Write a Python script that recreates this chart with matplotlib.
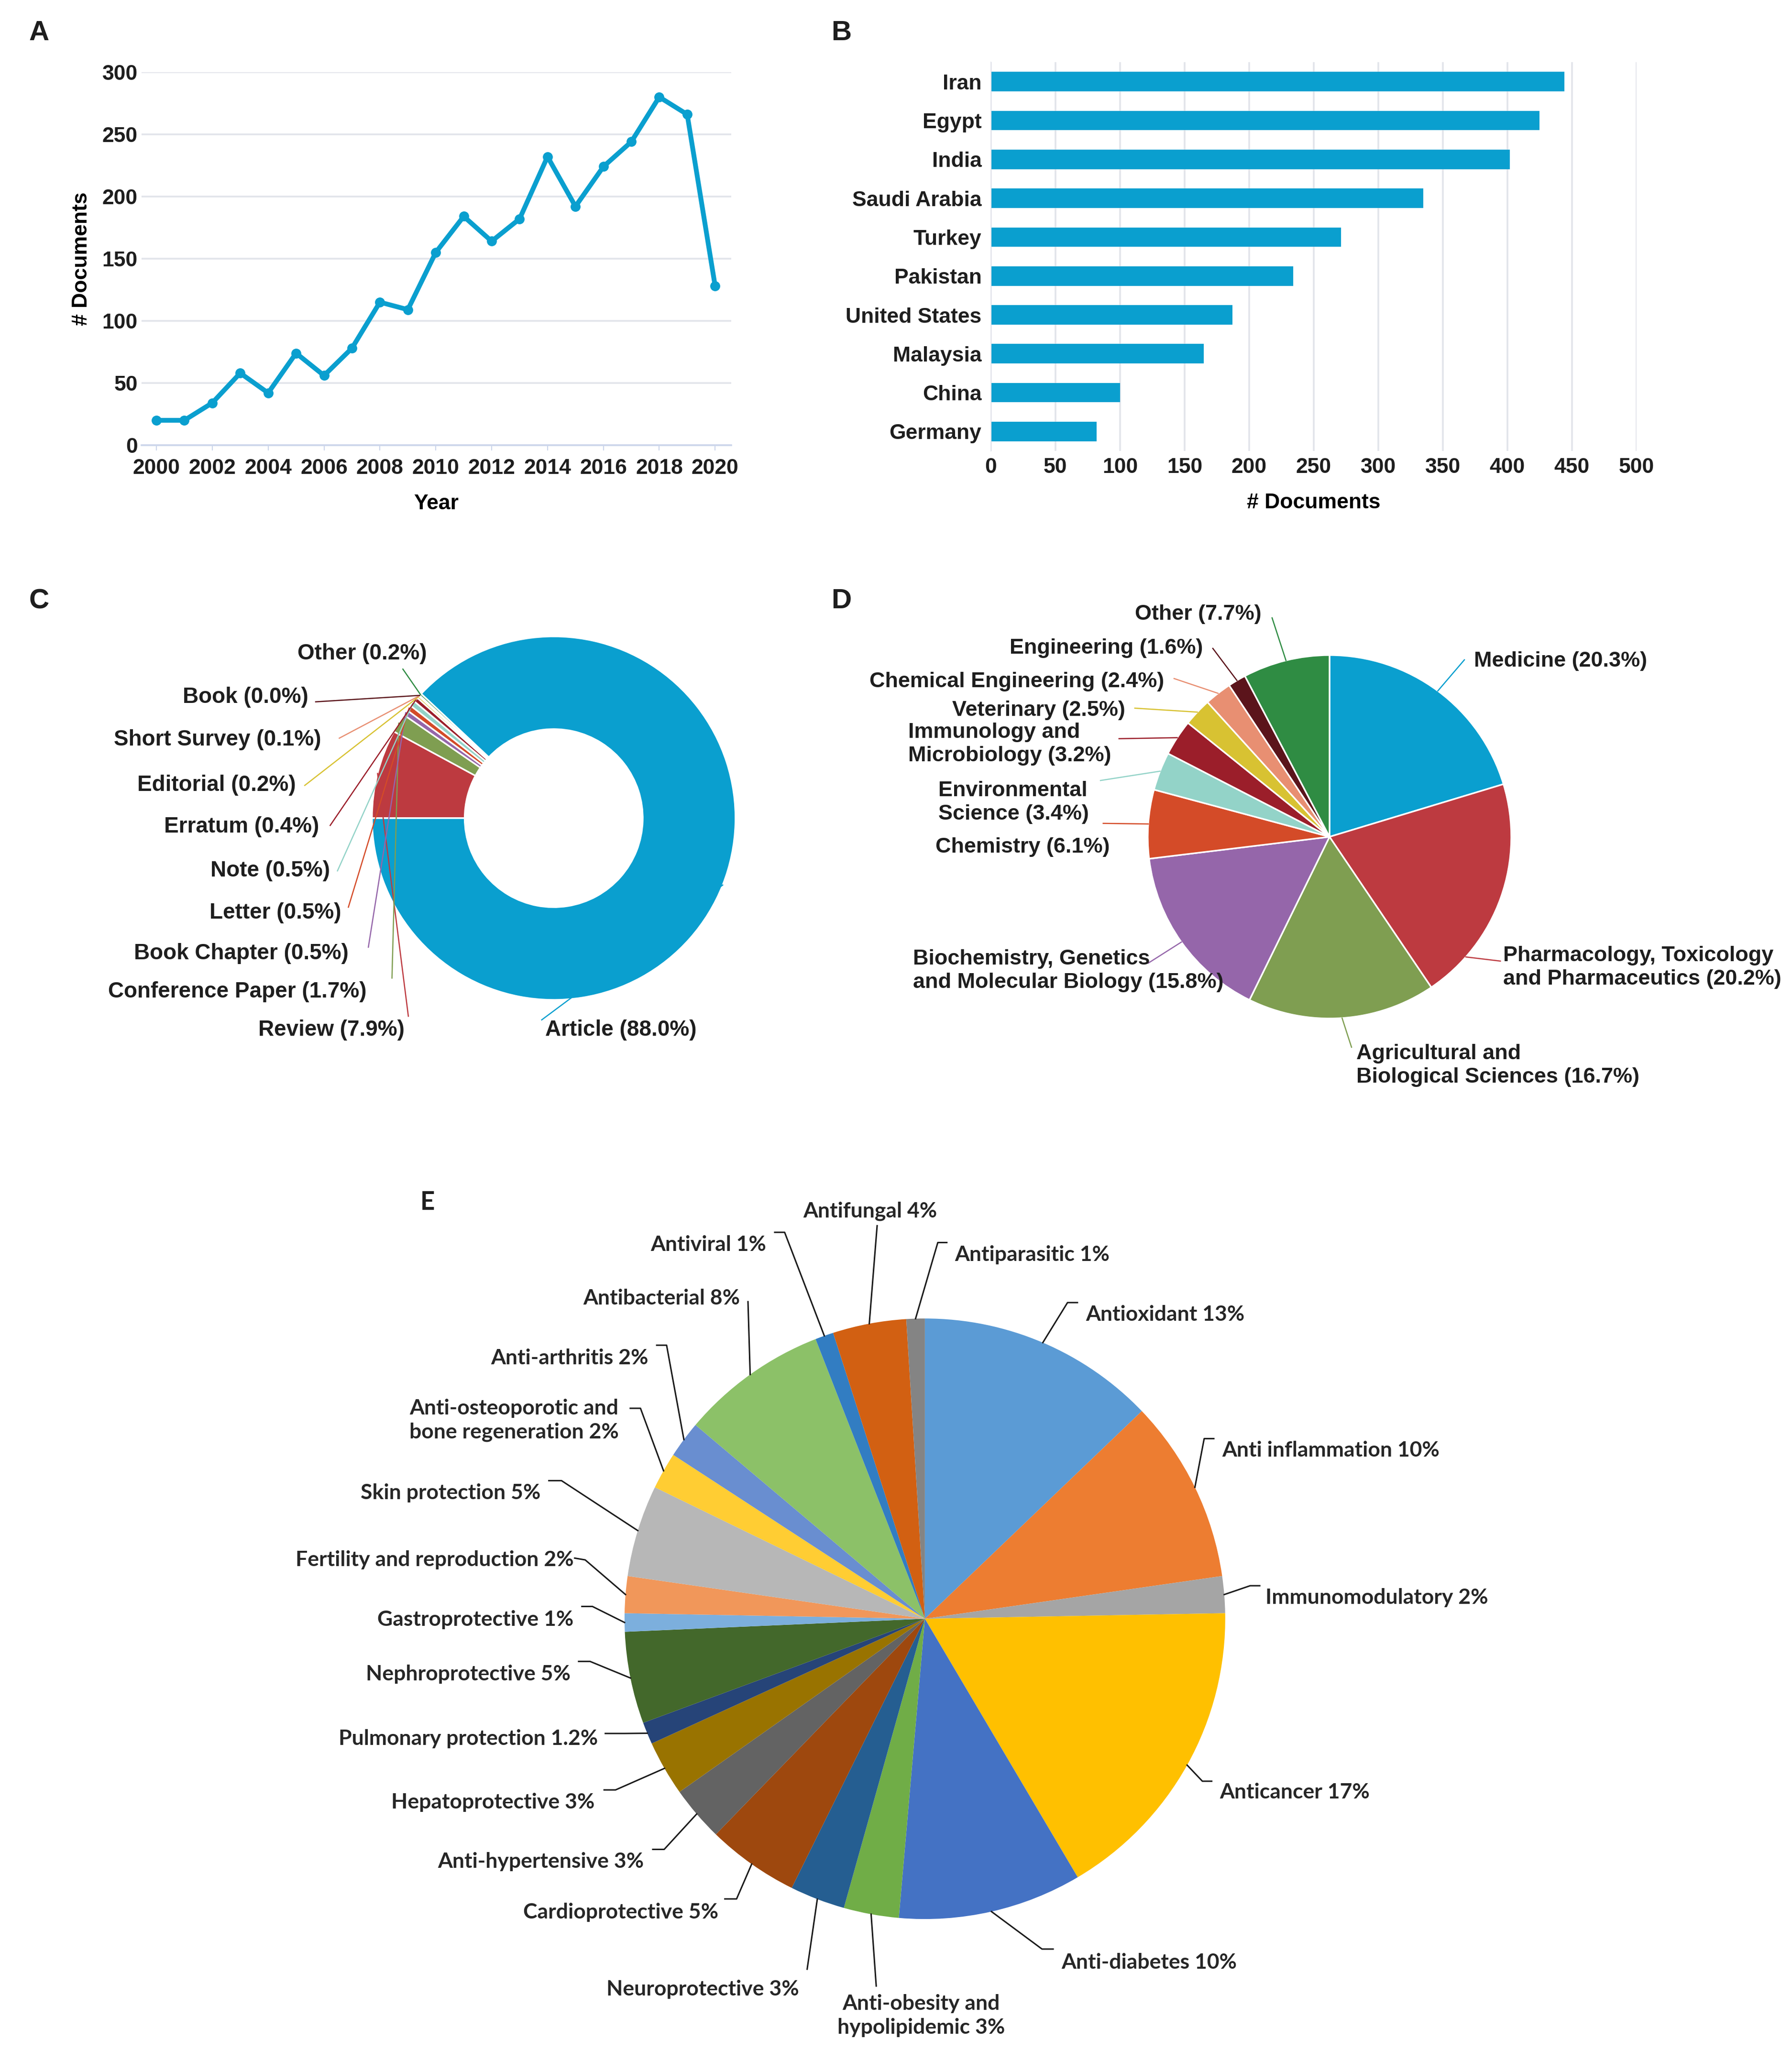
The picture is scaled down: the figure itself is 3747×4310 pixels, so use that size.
import matplotlib.pyplot as plt
import numpy as np

plt.rcParams['font.family'] = ['Liberation Sans', 'DejaVu Sans']
plt.rcParams['font.weight'] = 'bold'
plt.rcParams['axes.labelweight'] = 'bold'
plt.rcParams['text.color'] = '#1e1e1e'
plt.rcParams['xtick.color'] = '#1e1e1e'
plt.rcParams['ytick.color'] = '#1e1e1e'

# ---- data ----
# A: documents per year
years = list(range(2000, 2021))
docs_per_year = [20, 20, 34, 58, 42, 74, 56, 78, 115, 109, 155, 184, 164,
                 182, 232, 192, 224, 244, 280, 266, 128]

# B: documents per country
countries = ['Iran', 'Egypt', 'India', 'Saudi Arabia', 'Turkey', 'Pakistan',
             'United States', 'Malaysia', 'China', 'Germany']
country_docs = [444, 425, 402, 335, 271, 234, 187, 165, 100, 82]

# C: document types (clockwise from 9 o'clock)
doc_types = ['Review', 'Conference Paper', 'Book Chapter', 'Letter', 'Note',
             'Erratum', 'Editorial', 'Short Survey', 'Book', 'Other', 'Article']
doc_type_pct = [7.9, 1.7, 0.5, 0.5, 0.5, 0.4, 0.2, 0.1, 0.0, 0.2, 88.0]
doc_type_colors = ['#bd3a40', '#7f9e51', '#9566aa', '#d44b28', '#93d3c8',
                   '#9b1e2a', '#d8c232', '#e88f72', '#5b141b', '#2f8c43', '#0a9fcf']

# D: subject areas (clockwise from 12 o'clock)
subjects = ['Medicine', 'Pharmacology, Toxicology\nand Pharmaceutics',
            'Agricultural and\nBiological Sciences',
            'Biochemistry, Genetics\nand Molecular Biology', 'Chemistry',
            'Environmental\nScience', 'Immunology and\nMicrobiology', 'Veterinary',
            'Chemical Engineering', 'Engineering', 'Other']
subject_pct = [20.3, 20.2, 16.7, 15.8, 6.1, 3.4, 3.2, 2.5, 2.4, 1.6, 7.7]
subject_colors = ['#0a9fcf', '#bd3a40', '#7f9e51', '#9566aa', '#d44b28', '#93d3c8',
                  '#9b1e2a', '#d8c232', '#e88f72', '#5b141b', '#2f8c43']

# E: biological activities (clockwise from 12 o'clock)
activities = ['Antioxidant', 'Anti inflammation', 'Immunomodulatory', 'Anticancer',
              'Anti-diabetes', 'Anti-obesity and\nhypolipidemic', 'Neuroprotective',
              'Cardioprotective', 'Anti-hypertensive', 'Hepatoprotective',
              'Pulmonary protection', 'Nephroprotective', 'Gastroprotective',
              'Fertility and reproduction', 'Skin protection',
              'Anti-osteoporotic and\nbone regeneration', 'Anti-arthritis',
              'Antibacterial', 'Antiviral', 'Antifungal', 'Antiparasitic']
activity_pct = [13, 10, 2, 17, 10, 3, 3, 5, 3, 3, 1.2, 5, 1, 2, 5, 2, 2, 8, 1, 4, 1]
activity_colors = ['#5b9bd5', '#ed7d31', '#a5a5a5', '#ffc000', '#4472c4', '#70ad47',
                   '#255e91', '#9e480e', '#636363', '#997300', '#264478', '#43682b',
                   '#7cafdd', '#f1975a', '#b7b7b7', '#ffcd33', '#698ed0', '#8cc168',
                   '#327dc2', '#d26012', '#848484']

blue = '#0a9fcf'
grid_col = '#e2e4ea'

fig = plt.figure(figsize=(18.74, 21.55), dpi=200)

# ---- A: line chart ----
axA = fig.add_axes([0.079, 0.784, 0.329, 0.181])
axA.plot(years, docs_per_year, color=blue, lw=3.6, marker='o', ms=6.5)
axA.set_xlim(1999.47, 2020.58)
axA.set_ylim(0, 300)
axA.set_yticks(range(0, 301, 50))
axA.set_xticks(range(2000, 2021, 2))
axA.grid(axis='y', color=grid_col, lw=1.3)
axA.set_axisbelow(True)
for s in ['top', 'right', 'left']:
    axA.spines[s].set_visible(False)
axA.spines['bottom'].set_color('#ccd6eb')
axA.spines['bottom'].set_linewidth(1.3)
axA.tick_params(axis='y', length=0, pad=3, labelsize=16)
axA.tick_params(axis='x', length=4, color='#ccd6eb', pad=6, labelsize=16)
axA.set_xlabel('Year', fontsize=16, labelpad=12)
axA.set_ylabel('# Documents', fontsize=16, labelpad=8)

# ---- B: horizontal bars ----
axB = fig.add_axes([0.5528, 0.7812, 0.3602, 0.1886])
axB.barh(range(len(countries)), country_docs, height=0.5, color=blue)
axB.set_xlim(0, 500)
axB.set_ylim(len(countries) - 0.5, -0.5)
axB.set_yticks(range(len(countries)))
axB.set_yticklabels(countries)
axB.set_xticks(range(0, 501, 50))
axB.grid(axis='x', color=grid_col, lw=1.3)
axB.set_axisbelow(True)
for s in ['top', 'right', 'bottom']:
    axB.spines[s].set_visible(False)
axB.spines['left'].set_color('#e6e8ee')
axB.tick_params(axis='both', length=0, labelsize=16)
axB.tick_params(axis='y', pad=7)
axB.tick_params(axis='x', pad=5)
axB.set_xlabel('# Documents', fontsize=16, labelpad=12)

# ---- C: donut ----
axC = fig.add_axes([0.0, 0.478, 0.4402, 0.232])
wedgesC, _ = axC.pie(doc_type_pct, colors=doc_type_colors, startangle=180,
                     counterclock=False, radius=1.0,
                     wedgeprops=dict(width=0.51, edgecolor='white', linewidth=1.2))
axC.set_xlim(-3.047, 1.295)
axC.set_ylim(-1.418, 1.213)
axC.set_aspect('auto')
axC.axis('off')

# label anchor (x, y, ha) and start point of the connector
c_layout = [(-0.82, -1.166, 'right', -0.80, -1.09),
            (-1.03, -0.955, 'right', -0.89, -0.88),
            (-1.13, -0.745, 'right', -1.02, -0.71),
            (-1.17, -0.52, 'right', -1.13, -0.49),
            (-1.23, -0.29, 'right', -1.19, -0.29),
            (-1.29, -0.047, 'right', -1.23, -0.04),
            (-1.42, 0.18, 'right', -1.37, 0.18),
            (-1.28, 0.43, 'right', -1.18, 0.44),
            (-1.35, 0.666, 'right', -1.31, 0.64),
            (-0.697, 0.905, 'right', -0.83, 0.82),
            (-0.047, -1.166, 'left', -0.066, -1.11)]
for w, name, pct, col, lay in zip(wedgesC, doc_types, doc_type_pct,
                                  doc_type_colors, c_layout):
    tx, ty, ha, sx, sy = lay
    ang = np.deg2rad((w.theta1 + w.theta2) / 2)
    axC.plot([sx, np.cos(ang)], [sy, np.sin(ang)], color=col, lw=0.9)
    axC.text(tx, ty, f'{name} ({pct:.1f}%)', ha=ha, va='center', fontsize=16.5)

# ---- D: pie ----
axD = fig.add_axes([0.4589, 0.4687, 0.5411, 0.2413])
wedgesD, _ = axD.pie(subject_pct, colors=subject_colors, startangle=90,
                     counterclock=False, radius=1.0,
                     wedgeprops=dict(edgecolor='white', linewidth=1.2))
axD.set_xlim(-2.789, 2.547)
axD.set_ylim(-1.421, 1.316)
axD.set_aspect('auto')
axD.axis('off')

# label anchor (x, y, ha), connector start, position of the connector along the wedge
d_layout = [(0.795, 0.966, 'left', 0.742, 0.974, 0.5),
            (0.955, -0.718, 'left', 0.94, -0.684, 0.2),
            (0.147, -1.258, 'left', 0.121, -1.158, 0.5),
            (-2.292, -0.737, 'left', -0.997, -0.695, 0.5),
            (-1.21, -0.058, 'right', -1.245, 0.074, 0.5),
            (-1.739, 0.19, 'center', -1.26, 0.31, 0.5),
            (-2.318, 0.51, 'left', -1.158, 0.54, 0.5),
            (-1.124, 0.695, 'right', -1.071, 0.708, 0.5),
            (-0.91, 0.853, 'right', -0.855, 0.871, 0.5),
            (-0.695, 1.037, 'right', -0.642, 1.037, 0.5),
            (-0.374, 1.226, 'right', -0.316, 1.205, 0.5)]
for w, name, pct, col, lay in zip(wedgesD, subjects, subject_pct,
                                  subject_colors, d_layout):
    tx, ty, ha, sx, sy, frac = lay
    ang = np.deg2rad(w.theta1 + frac * (w.theta2 - w.theta1))
    axD.plot([sx, np.cos(ang)], [sy, np.sin(ang)], color=col, lw=0.9)
    axD.text(tx, ty, f'{name} ({pct:.1f}%)', ha=ha, va='center', fontsize=16.2,
             multialignment='left', linespacing=1.25)

# ---- E: pie ----
axE = fig.add_axes([0.1467, 0.0023, 0.7337, 0.4362])
wedgesE, _ = axE.pie(activity_pct, colors=activity_colors, startangle=90,
                     counterclock=False, radius=1.0,
                     wedgeprops=dict(linewidth=0))
axE.set_xlim(-2.204, 2.175)
axE.set_ylim(-1.457, 1.537)
axE.set_aspect('auto')
axE.axis('off')

# label anchor (x, y, ha), connector start and elbow
e_layout = [(0.535, 1.013, 'left', 0.508, 1.053, 0.475, 1.053),
            (0.990, 0.561, 'left', 0.962, 0.600, 0.930, 0.600),
            (1.134, 0.070, 'left', 1.115, 0.110, 1.083, 0.110),
            (0.981, -0.578, 'left', 0.955, -0.541, 0.924, -0.541),
            (0.455, -1.145, 'left', 0.427, -1.100, 0.390, -1.100),
            (-0.013, -1.322, 'center', -0.162, -1.223, -0.162, -1.223),
            (-0.739, -1.234, 'center', -0.392, -1.167, -0.392, -1.167),
            (-0.688, -0.978, 'right', -0.666, -0.933, -0.627, -0.933),
            (-0.936, -0.809, 'right', -0.906, -0.768, -0.868, -0.768),
            (-1.099, -0.611, 'right', -1.068, -0.570, -1.030, -0.570),
            (-1.089, -0.400, 'right', -1.064, -0.382, -1.000, -0.382),
            (-1.180, -0.185, 'right', -1.153, -0.142, -1.115, -0.142),
            (-1.170, -0.003, 'right', -1.142, 0.041, -1.107, 0.041),
            (-1.169, 0.196, 'right', -1.166, 0.202, -1.131, 0.196),
            (-1.279, 0.419, 'right', -1.252, 0.460, -1.210, 0.460),
            (-1.019, 0.661, 'right', -0.981, 0.701, -0.947, 0.701),
            (-0.920, 0.869, 'right', -0.893, 0.911, -0.860, 0.911),
            (-0.615, 1.068, 'right', -0.589, 1.056, -0.589, 1.056),
            (-0.529, 1.245, 'right', -0.500, 1.287, -0.467, 1.287),
            (-0.182, 1.358, 'center', -0.159, 1.309, -0.159, 1.309),
            (0.099, 1.212, 'left', 0.073, 1.253, 0.043, 1.253)]
for w, name, pct, lay in zip(wedgesE, activities, activity_pct, e_layout):
    tx, ty, ha, sx, sy, ex, ey = lay
    ang = np.deg2rad((w.theta1 + w.theta2) / 2)
    axE.plot([sx, ex, np.cos(ang)], [sy, ey, np.sin(ang)], color='#1a1a1a', lw=1.1)
    axE.text(tx, ty, f'{name} {pct:g}%', ha=ha, va='center', fontsize=16,
             family=['Lato', 'DejaVu Sans'], weight='bold', color='#262626',
             multialignment='center', linespacing=1.3)

# ---- panel letters ----
for letter, x, y in [('A', 0.0219, 0.984), ('B', 0.4693, 0.984),
                     ('C', 0.0219, 0.7083), ('D', 0.4693, 0.7083)]:
    fig.text(x, y, letter, fontsize=21, weight='bold', ha='center', va='center')
fig.text(0.2385, 0.4165, 'E', fontsize=19, ha='center', va='center',
         family=['Lato', 'DejaVu Sans'], weight='bold')

fig.savefig('out.png', dpi=200)
